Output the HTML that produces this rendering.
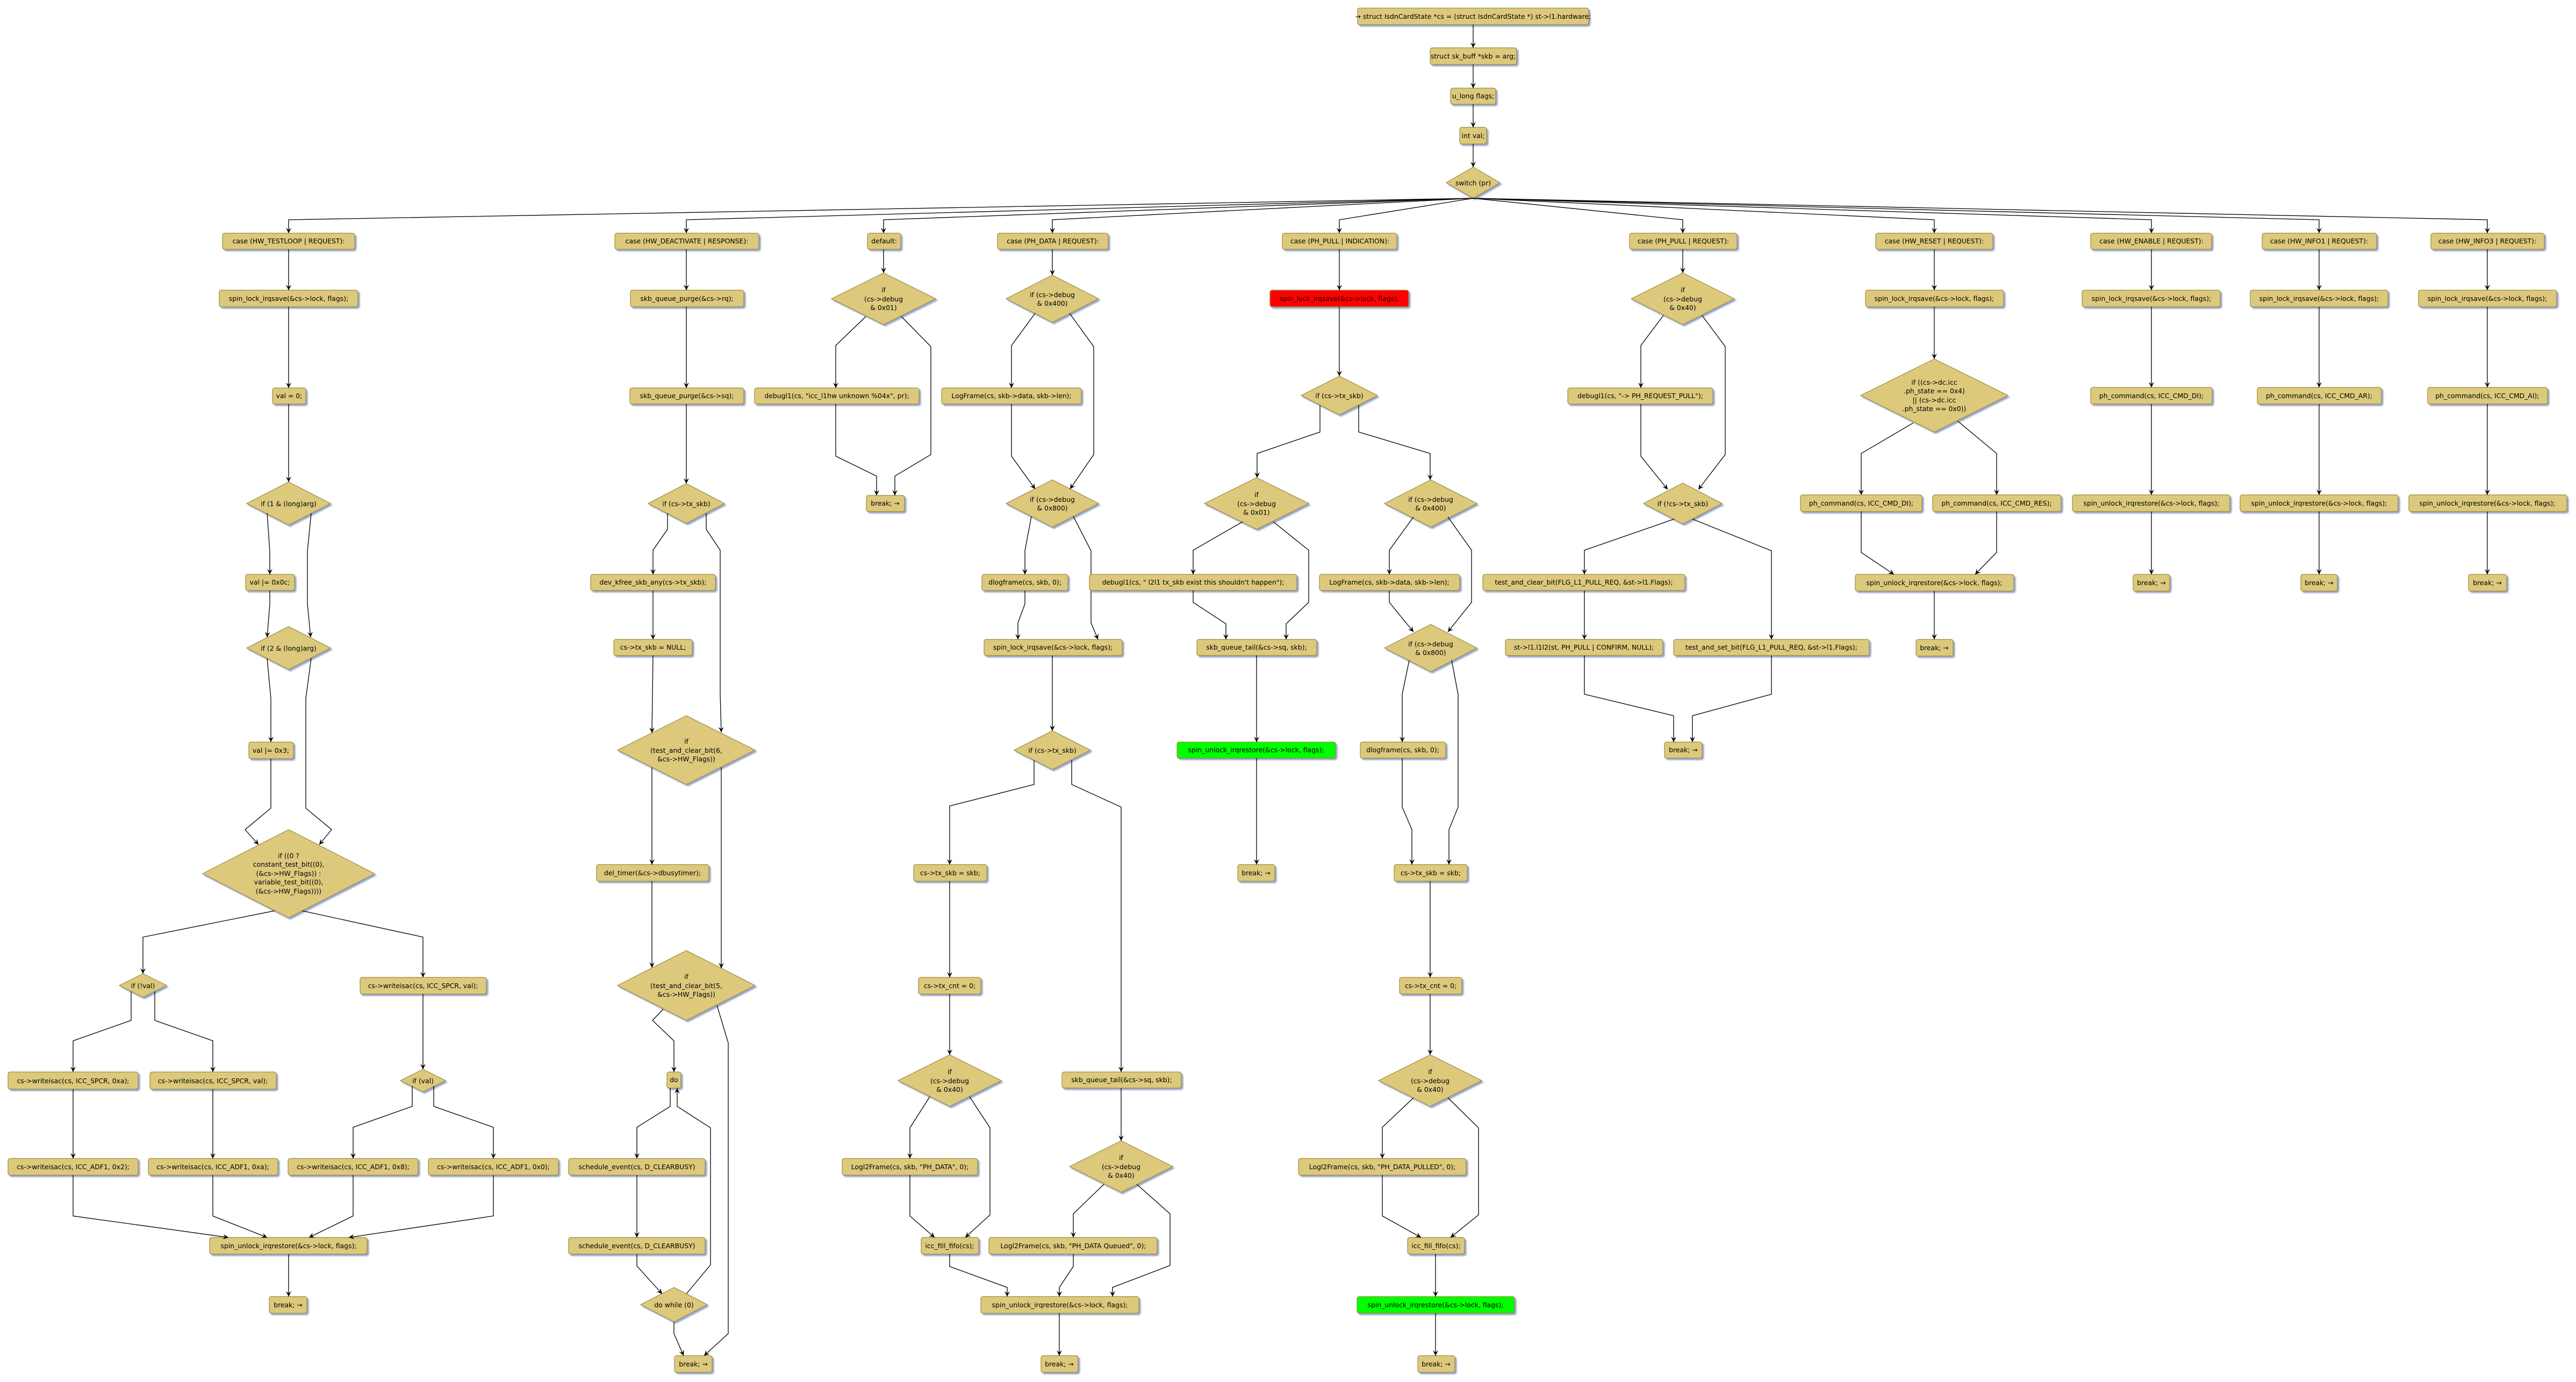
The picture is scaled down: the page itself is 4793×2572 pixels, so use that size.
<!DOCTYPE html>
<html><head><meta charset="utf-8">
<style>
html,body{margin:0;padding:0;background:#fff;}
svg{display:block;}
.b{fill:#dcc97c;stroke:#a08a3c;stroke-width:1.2;filter:url(#sh);}
.r{fill:#ff0000;stroke:#a08a3c;stroke-width:1.2;filter:url(#sh);}
.g{fill:#00ff00;stroke:#a08a3c;stroke-width:1.2;filter:url(#sh);}
.l{fill:none;stroke:#000;stroke-width:1.3;}
.la{fill:none;stroke:#000;stroke-width:1.3;marker-end:url(#a);}
text{font-family:"DejaVu Sans","Liberation Sans",sans-serif;font-size:12.4px;fill:#000;text-anchor:middle;}
</style></head><body>
<svg width="4793" height="2572" viewBox="0 0 4793 2572" xmlns="http://www.w3.org/2000/svg">
<defs>
<marker id="a" markerWidth="12" markerHeight="10" refX="10" refY="5" orient="auto" markerUnits="userSpaceOnUse"><path d="M0,0 L10,5 L0,10 L4,5 Z" fill="#000"/></marker>
<filter id="sh" x="-10%" y="-20%" width="130%" height="160%"><feDropShadow dx="3" dy="3" stdDeviation="1.2" flood-color="#8496c4" flood-opacity="0.85"/></filter>
</defs>

<!-- top chain -->
<rect class="b" x="2526" y="15" width="430" height="31" rx="4"/><text x="2741" y="35">→ struct IsdnCardState *cs = (struct IsdnCardState *) st-&gt;l1.hardware;</text>
<rect class="b" x="2661" y="89" width="161" height="31" rx="4"/><text x="2741" y="109">struct sk_buff *skb = arg;</text>
<rect class="b" x="2699" y="164" width="84" height="30" rx="4"/><text x="2741" y="183">u_long flags;</text>
<rect class="b" x="2716" y="237" width="50" height="31" rx="4"/><text x="2741" y="257">int  val;</text>
<polygon class="b" points="2741,311 2791,340 2741,369 2691,340"/><text x="2741" y="345">switch (pr)</text>
<path class="la" d="M2741,46 V89"/><path class="la" d="M2741,120 V164"/><path class="la" d="M2741,194 V237"/><path class="la" d="M2741,268 V311"/>

<!-- fan -->
<path class="la" d="M2741,369 L537,409 V434"/>
<path class="la" d="M2741,369 L1277,409 V434"/>
<path class="la" d="M2741,369 L1644,409 V434"/>
<path class="la" d="M2741,369 L1958,409 V434"/>
<path class="la" d="M2741,369 L2492,409 V434"/>
<path class="la" d="M2741,369 L3131,409 V434"/>
<path class="la" d="M2741,369 L3599,409 V434"/>
<path class="la" d="M2741,369 L4003,409 V434"/>
<path class="la" d="M2741,369 L4315,409 V434"/>
<path class="la" d="M2741,369 L4628,409 V434"/>

<!-- Column A -->
<rect class="b" x="414" y="434" width="246" height="30" rx="4"/><text x="537" y="453">case (HW_TESTLOOP | REQUEST):</text>
<rect class="b" x="408" y="540" width="258" height="31" rx="4"/><text x="537" y="560">spin_lock_irqsave(&amp;cs-&gt;lock, flags);</text>
<rect class="b" x="507" y="722" width="62" height="30" rx="4"/><text x="538" y="741">val = 0;</text>
<polygon class="b" points="537,897 615,937 537,977 459,937"/><text x="537" y="942">if (1 &amp; (long)arg)</text>
<rect class="b" x="457" y="1069" width="91" height="30" rx="4"/><text x="502" y="1088">val |= 0x0c;</text>
<polygon class="b" points="537,1166 615,1206 537,1246 459,1206"/><text x="537" y="1211">if (2 &amp; (long)arg)</text>
<rect class="b" x="463" y="1381" width="83" height="31" rx="4"/><text x="504" y="1401">val |= 0x3;</text>
<polygon class="b" points="537,1544 697,1626 537,1708 377,1626"/>
<text x="537" y="1597">if ((0 ?</text><text x="537" y="1613">constant_test_bit((0),</text><text x="537" y="1630">(&amp;cs-&gt;HW_Flags)) :</text><text x="537" y="1646">variable_test_bit((0),</text><text x="537" y="1663">(&amp;cs-&gt;HW_Flags))))</text>
<polygon class="b" points="266,1812 310,1834 266,1856 222,1834"/><text x="266" y="1839">if (!val)</text>
<rect class="b" x="670" y="1819" width="235" height="31" rx="4"/><text x="787" y="1839">cs-&gt;writeisac(cs, ICC_SPCR, val);</text>
<polygon class="b" points="787,1990 829,2011 787,2032 745,2011"/><text x="787" y="2016">if (val)</text>
<rect class="b" x="15" y="1995" width="242" height="32" rx="4"/><text x="136" y="2016">cs-&gt;writeisac(cs, ICC_SPCR, 0xa);</text>
<rect class="b" x="279" y="1995" width="235" height="32" rx="4"/><text x="396" y="2016">cs-&gt;writeisac(cs, ICC_SPCR, val);</text>
<rect class="b" x="15" y="2156" width="242" height="31" rx="4"/><text x="136" y="2176">cs-&gt;writeisac(cs, ICC_ADF1, 0x2);</text>
<rect class="b" x="276" y="2156" width="241" height="31" rx="4"/><text x="396" y="2176">cs-&gt;writeisac(cs, ICC_ADF1, 0xa);</text>
<rect class="b" x="536" y="2156" width="242" height="31" rx="4"/><text x="657" y="2176">cs-&gt;writeisac(cs, ICC_ADF1, 0x8);</text>
<rect class="b" x="797" y="2156" width="242" height="31" rx="4"/><text x="918" y="2176">cs-&gt;writeisac(cs, ICC_ADF1, 0x0);</text>
<rect class="b" x="390" y="2303" width="293" height="31" rx="4"/><text x="537" y="2323">spin_unlock_irqrestore(&amp;cs-&gt;lock, flags);</text>
<rect class="b" x="501" y="2413" width="70" height="31" rx="4"/><text x="536" y="2433">break; →</text>
<path class="la" d="M537,464 V540"/><path class="la" d="M537,571 V722"/><path class="la" d="M537,752 V897"/>
<path class="la" d="M497,955 L502,1026 V1069"/>
<path class="la" d="M579,955 L572,1026 V1124 L578,1186"/>
<path class="la" d="M502,1099 V1124 L497,1186"/>
<path class="la" d="M497,1225 L504,1300 V1381"/>
<path class="la" d="M579,1225 L569,1300 V1504 L617,1544 L594,1572"/>
<path class="la" d="M504,1412 V1504 L456,1544 L481,1572"/>
<path class="la" d="M511,1695 L266,1744 V1812"/>
<path class="la" d="M562,1695 L787,1744 V1819"/>
<path class="la" d="M244,1845 V1899 L136,1937 V1995"/>
<path class="la" d="M288,1845 V1899 L396,1937 V1995"/>
<path class="la" d="M787,1850 V1990"/>
<path class="la" d="M767,2021 V2059 L657,2098 V2156"/>
<path class="la" d="M807,2021 V2059 L918,2098 V2156"/>
<path class="la" d="M136,2027 V2156"/><path class="la" d="M396,2027 V2156"/>
<path class="la" d="M136,2187 V2263 L425,2303"/>
<path class="la" d="M396,2187 V2263 L497,2303"/>
<path class="la" d="M657,2187 V2263 L575,2303"/>
<path class="la" d="M918,2187 V2263 L649,2303"/>
<path class="la" d="M537,2334 V2413"/>

<!-- Column B -->
<rect class="b" x="1144" y="434" width="268" height="30" rx="4"/><text x="1278" y="453">case (HW_DEACTIVATE | RESPONSE):</text>
<rect class="b" x="1173" y="540" width="211" height="31" rx="4"/><text x="1278" y="560">skb_queue_purge(&amp;cs-&gt;rq);</text>
<rect class="b" x="1172" y="722" width="212" height="30" rx="4"/><text x="1278" y="741">skb_queue_purge(&amp;cs-&gt;sq);</text>
<polygon class="b" points="1277,900 1348,937 1277,974 1206,937"/><text x="1277" y="942">if (cs-&gt;tx_skb)</text>
<rect class="b" x="1099" y="1069" width="232" height="30" rx="4"/><text x="1215" y="1088">dev_kfree_skb_any(cs-&gt;tx_skb);</text>
<rect class="b" x="1142" y="1190" width="146" height="30" rx="4"/><text x="1215" y="1209">cs-&gt;tx_skb = NULL;</text>
<polygon class="b" points="1277,1332 1405,1396 1277,1460 1149,1396"/>
<text x="1277" y="1384">if</text><text x="1277" y="1401">(test_and_clear_bit(6,</text><text x="1277" y="1417">&amp;cs-&gt;HW_Flags))</text>
<rect class="b" x="1110" y="1609" width="209" height="31" rx="4"/><text x="1214" y="1629">del_timer(&amp;cs-&gt;dbusytimer);</text>
<polygon class="b" points="1277,1769 1405,1834 1277,1899 1149,1834"/>
<text x="1277" y="1822">if</text><text x="1277" y="1839">(test_and_clear_bit(5,</text><text x="1277" y="1855">&amp;cs-&gt;HW_Flags))</text>
<rect class="b" x="1241" y="1995" width="26" height="30" rx="4"/><text x="1254" y="2014">do</text>
<rect class="b" x="1058" y="2156" width="254" height="31" rx="4"/><text x="1185" y="2176">schedule_event(cs, D_CLEARBUSY)</text>
<rect class="b" x="1058" y="2303" width="254" height="31" rx="4"/><text x="1185" y="2323">schedule_event(cs, D_CLEARBUSY)</text>
<polygon class="b" points="1254,2396 1316,2428 1254,2460 1192,2428"/><text x="1254" y="2433">do while (0)</text>
<rect class="b" x="1255" y="2523" width="70" height="31" rx="4"/><text x="1290" y="2543">break; →</text>
<path class="la" d="M1277,464 V540"/><path class="la" d="M1277,571 V722"/><path class="la" d="M1277,752 V900"/>
<path class="la" d="M1242,955 V985 L1215,1024 V1069"/>
<path class="la" d="M1314,955 V985 L1340,1024 V1292 L1342,1363"/>
<path class="la" d="M1215,1099 V1190"/>
<path class="la" d="M1215,1220 L1213,1364"/>
<path class="la" d="M1213,1428 V1609"/>
<path class="la" d="M1342,1428 V1802"/>
<path class="la" d="M1213,1640 V1801"/>
<path class="la" d="M1234,1878 L1214,1899 L1254,1937 V1995"/>
<path class="la" d="M1334,1871 L1355,1941 V2482 L1310,2523"/>
<path class="la" d="M1247,2025 V2059 L1185,2098 V2156"/>
<path class="la" d="M1185,2187 V2303"/>
<path class="la" d="M1185,2334 V2356 L1232,2408"/>
<path class="la" d="M1277,2408 L1322,2354 V2099 L1260,2059 V2025"/>
<path class="la" d="M1254,2460 V2482 L1272,2523"/>

<!-- Column C default -->
<rect class="b" x="1614" y="434" width="62" height="30" rx="4"/><text x="1645" y="453">default:</text>
<polygon class="b" points="1644,508 1741,556 1644,604 1547,556"/>
<text x="1644" y="544">if</text><text x="1644" y="561">(cs-&gt;debug</text><text x="1644" y="577">&amp; 0x01)</text>
<rect class="b" x="1404" y="722" width="306" height="30" rx="4"/><text x="1557" y="741">debugl1(cs, "icc_l1hw unknown %04x", pr);</text>
<rect class="b" x="1612" y="922" width="71" height="30" rx="4"/><text x="1647" y="941">break; →</text>
<path class="la" d="M1644,464 V508"/>
<path class="la" d="M1611,589 L1555,643 V722"/>
<path class="la" d="M1677,589 L1732,645 V846 L1665,886 V922"/>
<path class="la" d="M1555,752 V849 L1631,886 V922"/>

<!-- Column D PH_DATA -->
<rect class="b" x="1856" y="434" width="206" height="30" rx="4"/><text x="1959" y="453">case (PH_DATA | REQUEST):</text>
<polygon class="b" points="1958,512 2044,556 1958,600 1872,556"/>
<text x="1958" y="553">if (cs-&gt;debug</text><text x="1958" y="569">&amp; 0x400)</text>
<rect class="b" x="1752" y="722" width="260" height="30" rx="4"/><text x="1882" y="741">LogFrame(cs, skb-&gt;data, skb-&gt;len);</text>
<polygon class="b" points="1958,893 2044,937 1958,981 1872,937"/>
<text x="1958" y="934">if (cs-&gt;debug</text><text x="1958" y="950">&amp; 0x800)</text>
<rect class="b" x="1827" y="1069" width="160" height="30" rx="4"/><text x="1907" y="1088">dlogframe(cs, skb, 0);</text>
<rect class="b" x="1831" y="1190" width="257" height="30" rx="4"/><text x="1959" y="1209">spin_lock_irqsave(&amp;cs-&gt;lock, flags);</text>
<polygon class="b" points="1958,1360 2029,1396 1958,1432 1887,1396"/><text x="1958" y="1401">if (cs-&gt;tx_skb)</text>
<rect class="b" x="1700" y="1609" width="136" height="31" rx="4"/><text x="1768" y="1629">cs-&gt;tx_skb = skb;</text>
<rect class="b" x="1709" y="1819" width="116" height="31" rx="4"/><text x="1767" y="1839">cs-&gt;tx_cnt = 0;</text>
<polygon class="b" points="1767,1963 1863,2011 1767,2059 1671,2011"/>
<text x="1767" y="1999">if</text><text x="1767" y="2016">(cs-&gt;debug</text><text x="1767" y="2032">&amp; 0x40)</text>
<rect class="b" x="1567" y="2156" width="252" height="31" rx="4"/><text x="1693" y="2176">Logl2Frame(cs, skb, "PH_DATA", 0);</text>
<rect class="b" x="1714" y="2303" width="107" height="31" rx="4"/><text x="1767" y="2323">icc_fill_fifo(cs);</text>
<rect class="b" x="1976" y="1995" width="222" height="30" rx="4"/><text x="2087" y="2014">skb_queue_tail(&amp;cs-&gt;sq, skb);</text>
<polygon class="b" points="2086,2123 2182,2171 2086,2219 1990,2171"/>
<text x="2086" y="2159">if</text><text x="2086" y="2176">(cs-&gt;debug</text><text x="2086" y="2192">&amp; 0x40)</text>
<rect class="b" x="1840" y="2303" width="313" height="31" rx="4"/><text x="1997" y="2323">Logl2Frame(cs, skb, "PH_DATA Queued", 0);</text>
<rect class="b" x="1825" y="2413" width="294" height="31" rx="4"/><text x="1972" y="2433">spin_unlock_irqrestore(&amp;cs-&gt;lock, flags);</text>
<rect class="b" x="1937" y="2523" width="69" height="31" rx="4"/><text x="1971" y="2543">break; →</text>
<path class="la" d="M1958,464 V512"/>
<path class="la" d="M1926,583 L1882,643 V722"/>
<path class="la" d="M1990,583 L2035,645 V846 L1991,910"/>
<path class="la" d="M1882,752 V849 L1926,910"/>
<path class="la" d="M1919,961 L1907,1025 V1069"/>
<path class="la" d="M1997,961 L2030,1025 V1159 L2043,1190"/>
<path class="la" d="M1907,1099 V1124 L1894,1159 V1190"/>
<path class="la" d="M1958,1220 V1360"/>
<path class="la" d="M1924,1415 V1460 L1767,1500 V1609"/>
<path class="la" d="M1994,1415 V1460 L2086,1502 V1995"/>
<path class="la" d="M1767,1640 V1819"/>
<path class="la" d="M1767,1850 V1963"/>
<path class="la" d="M1730,2041 L1693,2099 V2156"/>
<path class="la" d="M1804,2041 L1842,2099 V2261 L1796,2303"/>
<path class="la" d="M1693,2187 V2263 L1739,2303"/>
<path class="la" d="M2086,2025 V2123"/>
<path class="la" d="M2054,2204 L1997,2259 V2303"/>
<path class="la" d="M2115,2204 L2177,2259 V2355 L2070,2396 V2413"/>
<path class="la" d="M1997,2334 V2357 L1971,2396 V2413"/>
<path class="la" d="M1767,2334 V2357 L1874,2396 V2413"/>
<path class="la" d="M1971,2444 V2523"/>

<!-- Column E PH_PULL INDICATION -->
<rect class="b" x="2386" y="434" width="213" height="30" rx="4"/><text x="2493" y="453">case (PH_PULL | INDICATION):</text>
<rect class="r" x="2363" y="540" width="258" height="31" rx="4"/><text x="2492" y="560">spin_lock_irqsave(&amp;cs-&gt;lock, flags);</text>
<polygon class="b" points="2492,700 2563,736 2492,772 2421,736"/><text x="2492" y="741">if (cs-&gt;tx_skb)</text>
<polygon class="b" points="2338,889 2435,937 2338,985 2241,937"/>
<text x="2338" y="925">if</text><text x="2338" y="942">(cs-&gt;debug</text><text x="2338" y="958">&amp; 0x01)</text>
<polygon class="b" points="2662,893 2748,937 2662,981 2576,937"/>
<text x="2662" y="934">if (cs-&gt;debug</text><text x="2662" y="950">&amp; 0x400)</text>
<rect class="b" x="2027" y="1069" width="386" height="30" rx="4"/><text x="2220" y="1088">debugl1(cs, " l2l1 tx_skb exist this shouldn't happen");</text>
<rect class="b" x="2455" y="1069" width="261" height="30" rx="4"/><text x="2585" y="1088">LogFrame(cs, skb-&gt;data, skb-&gt;len);</text>
<rect class="b" x="2227" y="1190" width="223" height="30" rx="4"/><text x="2338" y="1209">skb_queue_tail(&amp;cs-&gt;sq, skb);</text>
<polygon class="b" points="2662,1162 2748,1206 2662,1250 2576,1206"/>
<text x="2662" y="1203">if (cs-&gt;debug</text><text x="2662" y="1219">&amp; 0x800)</text>
<rect class="g" x="2190" y="1381" width="295" height="30" rx="4"/><text x="2337" y="1400">spin_unlock_irqrestore(&amp;cs-&gt;lock, flags);</text>
<rect class="b" x="2531" y="1381" width="159" height="30" rx="4"/><text x="2610" y="1400">dlogframe(cs, skb, 0);</text>
<rect class="b" x="2303" y="1609" width="69" height="31" rx="4"/><text x="2337" y="1629">break; →</text>
<rect class="b" x="2594" y="1609" width="136" height="31" rx="4"/><text x="2662" y="1629">cs-&gt;tx_skb = skb;</text>
<rect class="b" x="2604" y="1819" width="116" height="31" rx="4"/><text x="2662" y="1839">cs-&gt;tx_cnt = 0;</text>
<polygon class="b" points="2661,1963 2757,2011 2661,2059 2565,2011"/>
<text x="2661" y="1999">if</text><text x="2661" y="2016">(cs-&gt;debug</text><text x="2661" y="2032">&amp; 0x40)</text>
<rect class="b" x="2416" y="2156" width="312" height="31" rx="4"/><text x="2572" y="2176">Logl2Frame(cs, skb, "PH_DATA_PULLED", 0);</text>
<rect class="b" x="2619" y="2303" width="106" height="31" rx="4"/><text x="2672" y="2323">icc_fill_fifo(cs);</text>
<rect class="g" x="2525" y="2413" width="293" height="31" rx="4"/><text x="2671" y="2433">spin_unlock_irqrestore(&amp;cs-&gt;lock, flags);</text>
<rect class="b" x="2638" y="2523" width="69" height="31" rx="4"/><text x="2672" y="2543">break; →</text>
<path class="la" d="M2492,464 V540"/><path class="la" d="M2492,571 V700"/>
<path class="la" d="M2456,754 V804 L2339,844 V889"/>
<path class="la" d="M2528,754 V804 L2661,844 V893"/>
<path class="la" d="M2312,971 L2220,1024 V1069"/>
<path class="la" d="M2369,971 L2435,1024 V1121 L2393,1161 V1190"/>
<path class="la" d="M2220,1099 V1121 L2281,1161 V1190"/>
<path class="la" d="M2630,962 L2585,1024 V1069"/>
<path class="la" d="M2694,962 L2738,1024 V1121 L2694,1176"/>
<path class="la" d="M2585,1099 V1121 L2630,1176"/>
<path class="la" d="M2338,1220 V1381"/>
<path class="la" d="M2338,1411 V1609"/>
<path class="la" d="M2622,1229 L2609,1292 V1381"/>
<path class="la" d="M2701,1229 L2713,1292 V1502 L2696,1544 V1609"/>
<path class="la" d="M2609,1411 V1502 L2627,1544 V1609"/>
<path class="la" d="M2661,1640 V1819"/>
<path class="la" d="M2661,1850 V1963"/>
<path class="la" d="M2630,2043 L2572,2098 V2156"/>
<path class="la" d="M2694,2043 L2751,2099 V2261 L2699,2303"/>
<path class="la" d="M2572,2187 V2263 L2644,2303"/>
<path class="la" d="M2671,2334 V2413"/>
<path class="la" d="M2671,2444 V2523"/>

<!-- Column F PH_PULL REQUEST -->
<rect class="b" x="3032" y="434" width="200" height="30" rx="4"/><text x="3132" y="453">case (PH_PULL | REQUEST):</text>
<polygon class="b" points="3131,508 3227,556 3131,604 3035,556"/>
<text x="3131" y="544">if</text><text x="3131" y="561">(cs-&gt;debug</text><text x="3131" y="577">&amp; 0x40)</text>
<rect class="b" x="2917" y="722" width="270" height="30" rx="4"/><text x="3052" y="741">debugl1(cs, "-&gt; PH_REQUEST_PULL");</text>
<polygon class="b" points="3131,899 3204,937 3131,975 3058,937"/><text x="3131" y="942">if (!cs-&gt;tx_skb)</text>
<rect class="b" x="2759" y="1069" width="376" height="30" rx="4"/><text x="2947" y="1088">test_and_clear_bit(FLG_L1_PULL_REQ, &amp;st-&gt;l1.Flags);</text>
<rect class="b" x="2801" y="1190" width="293" height="30" rx="4"/><text x="2947" y="1209">st-&gt;l1.l1l2(st, PH_PULL | CONFIRM, NULL);</text>
<rect class="b" x="3114" y="1190" width="364" height="30" rx="4"/><text x="3296" y="1209">test_and_set_bit(FLG_L1_PULL_REQ, &amp;st-&gt;l1.Flags);</text>
<rect class="b" x="3097" y="1381" width="70" height="30" rx="4"/><text x="3132" y="1400">break; →</text>
<path class="la" d="M3131,464 V508"/>
<path class="la" d="M3095,587 L3053,643 V722"/>
<path class="la" d="M3167,587 L3210,645 V846 L3160,911"/>
<path class="la" d="M3053,752 V849 L3103,911"/>
<path class="la" d="M3115,966 L2948,1024 V1069"/>
<path class="la" d="M3149,966 L3296,1025 V1190"/>
<path class="la" d="M2948,1099 V1190"/>
<path class="la" d="M2948,1220 V1292 L3114,1332 V1381"/>
<path class="la" d="M3296,1220 V1292 L3149,1332 V1381"/>

<!-- Column G HW_RESET -->
<rect class="b" x="3490" y="434" width="218" height="30" rx="4"/><text x="3599" y="453">case (HW_RESET | REQUEST):</text>
<rect class="b" x="3471" y="540" width="257" height="31" rx="4"/><text x="3599" y="560">spin_lock_irqsave(&amp;cs-&gt;lock, flags);</text>
<polygon class="b" points="3599,668 3736,736 3599,804 3462,736"/>
<text x="3599" y="716">if ((cs-&gt;dc.icc</text><text x="3599" y="732">.ph_state == 0x4)</text><text x="3599" y="749">|| (cs-&gt;dc.icc</text><text x="3599" y="765">.ph_state == 0x0))</text>
<rect class="b" x="3350" y="921" width="226" height="31" rx="4"/><text x="3463" y="941">ph_command(cs, ICC_CMD_DI);</text>
<rect class="b" x="3596" y="921" width="239" height="31" rx="4"/><text x="3715" y="941">ph_command(cs, ICC_CMD_RES);</text>
<rect class="b" x="3452" y="1069" width="295" height="31" rx="4"/><text x="3599" y="1089">spin_unlock_irqrestore(&amp;cs-&gt;lock, flags);</text>
<rect class="b" x="3565" y="1190" width="69" height="31" rx="4"/><text x="3599" y="1210">break; →</text>
<path class="la" d="M3599,464 V540"/><path class="la" d="M3599,571 V668"/>
<path class="la" d="M3560,787 L3463,844 V921"/>
<path class="la" d="M3643,784 L3715,844 V921"/>
<path class="la" d="M3463,952 V1028 L3524,1069"/>
<path class="la" d="M3715,952 V1028 L3675,1069"/>
<path class="la" d="M3599,1100 V1190"/>

<!-- Column H HW_ENABLE -->
<rect class="b" x="3890" y="434" width="225" height="30" rx="4"/><text x="4003" y="453">case (HW_ENABLE | REQUEST):</text>
<rect class="b" x="3874" y="540" width="257" height="31" rx="4"/><text x="4003" y="560">spin_lock_irqsave(&amp;cs-&gt;lock, flags);</text>
<rect class="b" x="3890" y="721" width="226" height="31" rx="4"/><text x="4003" y="741">ph_command(cs, ICC_CMD_DI);</text>
<rect class="b" x="3856" y="921" width="293" height="31" rx="4"/><text x="4003" y="941">spin_unlock_irqrestore(&amp;cs-&gt;lock, flags);</text>
<rect class="b" x="3969" y="1069" width="68" height="31" rx="4"/><text x="4003" y="1089">break; →</text>
<path class="la" d="M4003,464 V540"/><path class="la" d="M4003,571 V721"/><path class="la" d="M4003,752 V921"/><path class="la" d="M4003,952 V1069"/>

<!-- Column I HW_INFO1 -->
<rect class="b" x="4209" y="434" width="213" height="30" rx="4"/><text x="4315" y="453">case (HW_INFO1 | REQUEST):</text>
<rect class="b" x="4187" y="540" width="256" height="31" rx="4"/><text x="4315" y="560">spin_lock_irqsave(&amp;cs-&gt;lock, flags);</text>
<rect class="b" x="4200" y="721" width="231" height="31" rx="4"/><text x="4315" y="741">ph_command(cs, ICC_CMD_AR);</text>
<rect class="b" x="4168" y="921" width="294" height="31" rx="4"/><text x="4315" y="941">spin_unlock_irqrestore(&amp;cs-&gt;lock, flags);</text>
<rect class="b" x="4281" y="1069" width="68" height="31" rx="4"/><text x="4315" y="1089">break; →</text>
<path class="la" d="M4315,464 V540"/><path class="la" d="M4315,571 V721"/><path class="la" d="M4315,752 V921"/><path class="la" d="M4315,952 V1069"/>

<!-- Column J HW_INFO3 -->
<rect class="b" x="4523" y="434" width="211" height="30" rx="4"/><text x="4628" y="453">case (HW_INFO3 | REQUEST):</text>
<rect class="b" x="4500" y="540" width="257" height="31" rx="4"/><text x="4628" y="560">spin_lock_irqsave(&amp;cs-&gt;lock, flags);</text>
<rect class="b" x="4517" y="721" width="223" height="31" rx="4"/><text x="4628" y="741">ph_command(cs, ICC_CMD_AI);</text>
<rect class="b" x="4482" y="921" width="294" height="31" rx="4"/><text x="4628" y="941">spin_unlock_irqrestore(&amp;cs-&gt;lock, flags);</text>
<rect class="b" x="4593" y="1069" width="71" height="31" rx="4"/><text x="4628" y="1089">break; →</text>
<path class="la" d="M4628,464 V540"/><path class="la" d="M4628,571 V721"/><path class="la" d="M4628,752 V921"/><path class="la" d="M4628,952 V1069"/>
</svg>
</body></html>
